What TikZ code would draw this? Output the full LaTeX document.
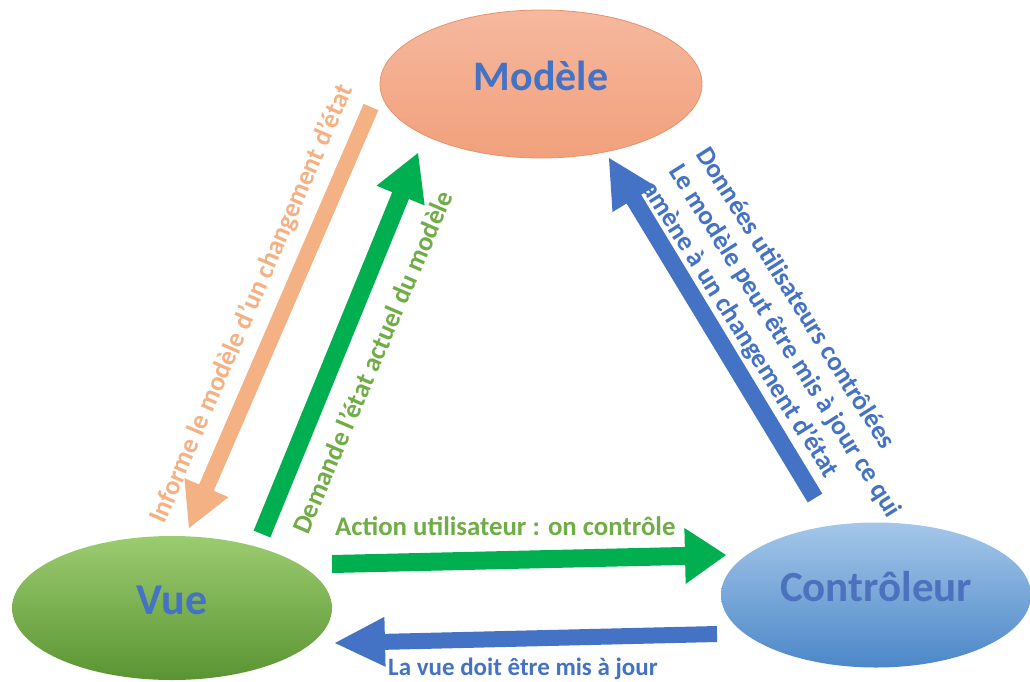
\documentclass[tikz,border=0pt]{standalone}
\usepackage{fontspec}
\setmainfont{Carlito}
\usetikzlibrary{shapes.geometric,calc}

\definecolor{cblue}{HTML}{4472C4}
\definecolor{cgreen}{HTML}{00B050}
\definecolor{tgreen}{HTML}{70AD47}
\definecolor{corange}{HTML}{F4B183}

% tail, tip, half shaft width, half head width, head length, style
\newcommand{\blockarrow}[6]{%
  \coordinate (#1-hb) at ($(#2)!#5!(#1)$);
  \fill[#6] ($(#1)!#3!90:(#2)$) -- ($(#1-hb)!#3!90:(#2)$) -- ($(#1-hb)!#4!90:(#2)$)
    -- (#2) -- ($(#1-hb)!#4!-90:(#2)$) -- ($(#1-hb)!#3!-90:(#2)$) -- ($(#1)!#3!-90:(#2)$) -- cycle;
}

\tikzset{
  bubble/.style={ellipse, inner sep=0pt, text height=24pt, text depth=12pt,
    font=\bfseries\fontsize{42}{50}\selectfont, text=cblue},
  lbl/.style={inner sep=0pt, font=\bfseries\fontsize{26.8}{31.5}\selectfont},
}

\begin{document}
\begin{tikzpicture}[x=1pt,y=-1pt]
\fill[white] (0,0) rectangle (1030,681);
\useasboundingbox (0,0) rectangle (1030,681);

% ellipses
\node[bubble, minimum width=322pt, minimum height=148pt,
  top color={rgb,255:red,246;green,184;blue,158}, bottom color={rgb,255:red,241;green,160;blue,124},
  draw={rgb,255:red,233;green,146;blue,108}, line width=0.8pt] (mod) at (541,84) {Modèle};
\node[bubble, minimum width=320pt, minimum height=144pt,
  top color={rgb,255:red,156;green,204;blue,112}, middle color={rgb,255:red,126;green,182;blue,78},
  bottom color={rgb,255:red,90;green,148;blue,50}, font=\bfseries\fontsize{44}{52}\selectfont] (vue) at (172,608) {Vue};
\node[bubble, minimum width=310pt, minimum height=145pt,
  top color={rgb,255:red,164;green,199;blue,233}, middle color={rgb,255:red,118;green,166;blue,219},
  bottom color={rgb,255:red,76;green,135;blue,200}, text={rgb,255:red,76;green,114;blue,190},
  font=\bfseries\fontsize{43}{50}\selectfont] (ctl) at (876,595) {Contrôleur};

% arrow end points
\coordinate (oT) at (371,107);  \coordinate (oH) at (189,528);
\coordinate (gT) at (262,534);  \coordinate (gH) at (418,153);
\coordinate (bT) at (815,498);  \coordinate (bH) at (609,158);
\coordinate (hT) at (332,564);  \coordinate (hH) at (726,555);
\coordinate (vT) at (717,634);  \coordinate (vH) at (335,643);

% right rotated text (drawn before blue arrow which covers part of it)
\node[lbl, text=cblue, align=left, rotate=-57.7, anchor=north west] (txtC) at (711,144)
  {Données utilisateurs contrôlées\\Le modèle peut être mis à jour ce qui\\amène à un changement d’état};

\blockarrow{oT}{oH}{8pt}{24pt}{44pt}{corange}
\blockarrow{gT}{gH}{9pt}{26pt}{46pt}{cgreen}
\blockarrow{bT}{bH}{8.5pt}{25pt}{48pt}{cblue}
\blockarrow{hT}{hH}{9pt}{28pt}{41pt}{cgreen}
\blockarrow{vT}{vH}{8pt}{25pt}{50pt}{cblue}

% labels
\node[lbl, text=corange, rotate=66.6] (txtO) at (252,304) {Informe le modèle d’un changement d’état};
\node[lbl, text=tgreen, rotate=66.8] (txtG) at (372,362) {Demande l’état actuel du modèle};
\node[lbl, text=tgreen, anchor=base west] (txtH) at (335,535) {Action utilisateur : on contrôle};
\node[lbl, text=cblue, anchor=base west, font=\bfseries\fontsize{25}{30}\selectfont] (txtV) at (388,675) {La vue doit être mis à jour};
\end{tikzpicture}
\end{document}
